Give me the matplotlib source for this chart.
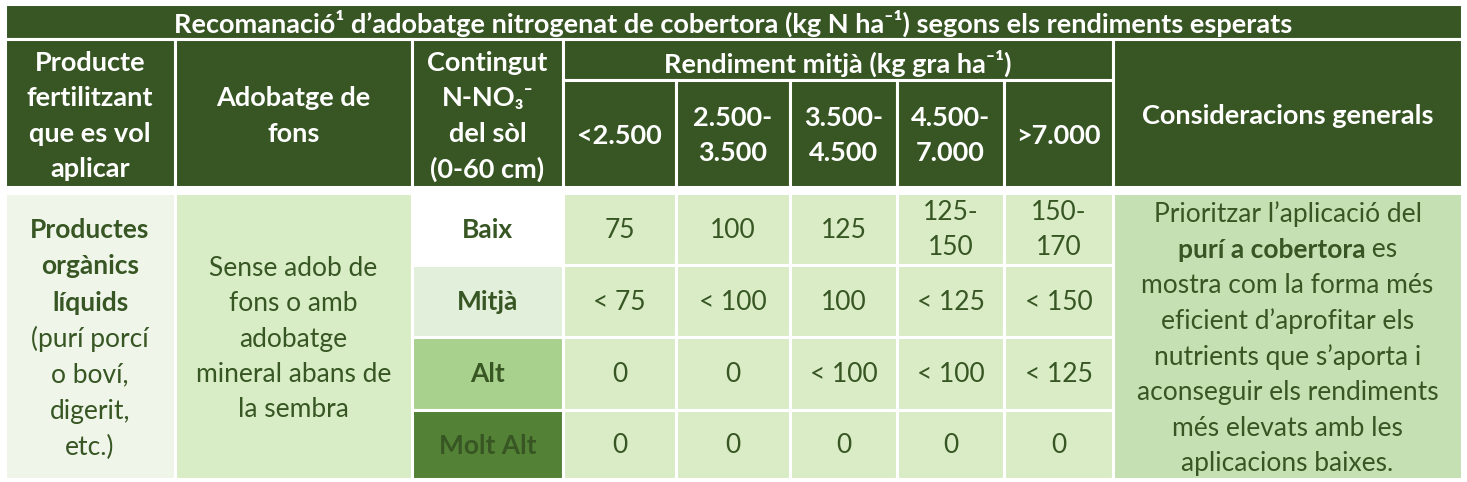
import matplotlib.pyplot as plt
from matplotlib.patches import Rectangle

plt.rcParams['font.family'] = ['Lato', 'DejaVu Sans']

# table content
title = "Recomanació¹ d’adobatge nitrogenat de cobertora (kg N ha⁻¹) segons els rendiments esperats"
head_producte = ["Producte", "fertilitzant", "que es vol", "aplicar"]
head_fons = ["Adobatge de", "fons"]
head_contingut = ["Contingut", "N-NO₃⁻", "del sòl", "(0-60 cm)"]
head_rendiment = "Rendiment mitjà (kg gra ha⁻¹)"
yield_classes = [["<2.500"], ["2.500-", "3.500"], ["3.500-", "4.500"],
                 ["4.500-", "7.000"], [">7.000"]]
head_consid = ["Consideracions generals"]

product_lines = [("Productes", "bold"), ("orgànics", "bold"), ("líquids", "bold"),
                 ("(purí porcí", "normal"), ("o boví,", "normal"),
                 ("digerit,", "normal"), ("etc.)", "normal")]
fons_lines = ["Sense adob de", "fons o amb", "adobatge", "mineral abans de", "la sembra"]
levels = ["Baix", "Mitjà", "Alt", "Molt Alt"]
doses = [["75", "100", "125", "125-\n150", "150-\n170"],
         ["< 75", "< 100", "100", "< 125", "< 150"],
         ["0", "0", "< 100", "< 100", "< 125"],
         ["0", "0", "0", "0", "0"]]
consid_lines = [[("Prioritzar l’aplicació del", "normal")],
                [("purí a cobertora", "bold"), (" es", "normal")],
                [("mostra com la forma més", "normal")],
                [("eficient d’aprofitar els", "normal")],
                [("nutrients que s’aporta i", "normal")],
                [("aconseguir els rendiments", "normal")],
                [("més elevats amb les", "normal")],
                [("aplicacions baixes.", "normal")]]

DARK = "#375623"
TXT = "#375623"
level_colors = ["#ffffff", "#e2efda", "#a9d18e", "#538135"]
cell_color = "#d9ecc6"

W, H = 1467, 482
fig = plt.figure(figsize=(W / 100, H / 100), dpi=100)
ax = fig.add_axes([0, 0, 1, 1])
ax.set_xlim(0, W)
ax.set_ylim(H, 0)
ax.axis("off")

cols = [5, 175, 412, 563, 676, 790, 897, 1004, 1113, 1462]
FS = 19
HFS = 19.5
DY = 3  # words with descenders sit a bit high when centred on their box


def cell(x0, x1, y0, y1, color):
    ax.add_patch(Rectangle((x0, y0), x1 - x0, y1 - y0, facecolor=color,
                           edgecolor="white", linewidth=2.2))


def stack(x, yc, items, step, color=TXT, size=FS, dy=DY):
    n = len(items)
    for i, (txt, wt) in enumerate(items):
        y = yc + (i - (n - 1) / 2) * step + dy
        ax.text(x, y, txt, ha="center", va="center", color=color,
                fontsize=size, fontweight=wt)


# title band
cell(cols[0], cols[-1], 4, 39, DARK)
ax.text((cols[0] + cols[-1]) / 2, 23, title, ha="center", va="center",
        color="white", fontsize=19.5, fontweight="bold")

# header
hy0, hy1, hmid = 39, 187, 80
hc = (hy0 + hy1) / 2
cell(cols[0], cols[1], hy0, hy1, DARK)
stack((cols[0] + cols[1]) / 2, hc, [(t, "bold") for t in head_producte], 35.3, "white", HFS)
cell(cols[1], cols[2], hy0, hy1, DARK)
stack((cols[1] + cols[2]) / 2, hc, [(t, "bold") for t in head_fons], 35.3, "white", HFS)
cell(cols[2], cols[3], hy0, hy1, DARK)
stack((cols[2] + cols[3]) / 2, hc, [(t, "bold") for t in head_contingut], 35.3, "white", HFS)
cell(cols[3], cols[8], hy0, hmid, DARK)
ax.text((cols[3] + cols[8]) / 2, 63, head_rendiment, ha="center", va="center",
        color="white", fontsize=HFS, fontweight="bold")
for j, lab in enumerate(yield_classes):
    cell(cols[3 + j], cols[4 + j], hmid, hy1, DARK)
    stack((cols[3 + j] + cols[4 + j]) / 2, (hmid + hy1) / 2 + 2,
          [(t, "bold") for t in lab], 35.3, "white", HFS, 0)
cell(cols[8], cols[9], hy0, hy1, DARK)
stack((cols[8] + cols[9]) / 2, hc, [(t, "bold") for t in head_consid], 35.3, "white", HFS)

# body
rows = [193, 265, 337, 410, 479]
by0, by1 = rows[0], rows[-1]
bc = 336
cell(cols[0], cols[1], by0, by1, "#eff6e9")
stack((cols[0] + cols[1]) / 2, bc, product_lines, 36.3)
cell(cols[1], cols[2], by0, by1, "#d8edc5")
stack((cols[1] + cols[2]) / 2, bc, [(t, "normal") for t in fons_lines], 35.3)

for i, lev in enumerate(levels):
    cell(cols[2], cols[3], rows[i], rows[i + 1], level_colors[i])
    yc = (rows[i] + rows[i + 1]) / 2
    ax.text((cols[2] + cols[3]) / 2, yc + 1, lev, ha="center", va="center",
            color=TXT, fontsize=FS, fontweight="bold")
    for j, v in enumerate(doses[i]):
        cell(cols[3 + j], cols[4 + j], rows[i], rows[i + 1], cell_color)
        stack((cols[3 + j] + cols[4 + j]) / 2, yc,
              [(t, "normal") for t in v.split("\n")], 35, dy=1)

# general remarks, with a bold run inside one line
cell(cols[8], cols[9], by0, by1, "#c5e0b3")
renderer = fig.canvas.get_renderer()
xc = (cols[8] + cols[9]) / 2
step = 35.7
n = len(consid_lines)
for i, parts in enumerate(consid_lines):
    y = bc + (i - (n - 1) / 2) * step + DY
    texts = [ax.text(0, y, t, ha="left", va="center", color=TXT, fontsize=FS,
                     fontweight=wt) for t, wt in parts]
    widths = []
    for t in texts:
        bb = t.get_window_extent(renderer)
        widths.append(bb.width)
    x = xc - sum(widths) / 2
    for t, w in zip(texts, widths):
        t.set_x(x)
        x += w

fig.savefig("out.png", dpi=100)
